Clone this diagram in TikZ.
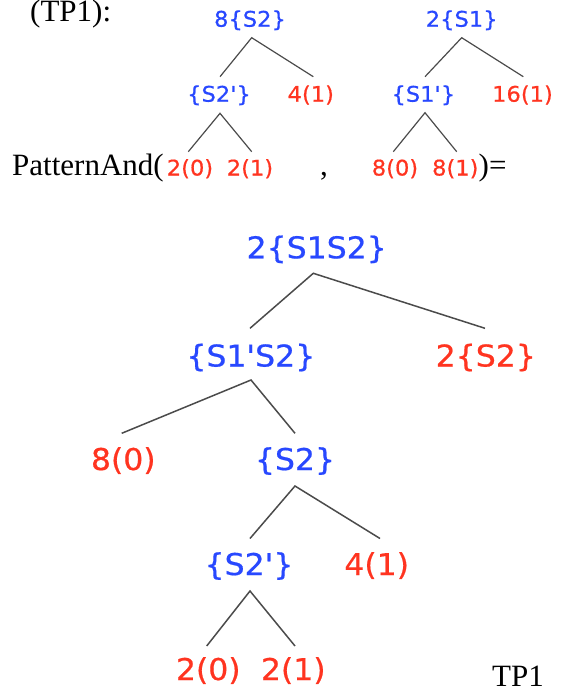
\documentclass[tikz,border=0pt]{standalone}
\usepackage{fontspec}
\setmainfont{Liberation Serif}
\newfontfamily\lbl{DejaVu Sans}[FakeStretch=1.05,FakeBold=0.6]
\definecolor{lblue}{RGB}{40,72,255}
\definecolor{lred}{RGB}{255,52,32}
\definecolor{lgray}{RGB}{75,75,75}
\tikzset{
  big/.style={inner sep=0pt, anchor=base, font=\lbl\fontsize{30}{30}\selectfont},
  small/.style={inner sep=0pt, anchor=base, font=\lbl\fontsize{21.5}{21.5}\selectfont},
  bl/.style={text=lblue},
  rd/.style={text=lred},
  serif/.style={inner sep=0pt, anchor=base west, font=\fontsize{31}{31}\selectfont},
  edgebig/.style={draw=lgray, line width=1.5pt},
  edgesmall/.style={draw=lgray, line width=1.2pt}
}
\begin{document}
\begin{tikzpicture}[x=1pt,y=-1pt]
\useasboundingbox (0,0) rectangle (560,690);
% ---------- top-left tree ----------
\node[small,bl] (t1r) at (250,26.7) {8\{S2\}};
\node[small,bl] (t1a) at (219,101.7) {\{S2'\}};
\node[small,rd] (t1b) at (310.8,101.7) {4(1)};
\node[small,rd] (t1c) at (190,175.5) {2(0)};
\node[small,rd] (t1d) at (250,175.5) {2(1)};
\coordinate (t1rp) at (251.7,37.7);
\coordinate (t1ap) at (220,76.7);
\coordinate (t1bp) at (313.3,76.7);
\coordinate (t1aq) at (220,113.3);
\coordinate (t1cp) at (188.3,151.7);
\coordinate (t1dp) at (251.7,151.7);
\draw[edgesmall] (t1ap) -- (t1rp) -- (t1bp);
\draw[edgesmall] (t1cp) -- (t1aq) -- (t1dp);
% ---------- top-right tree ----------
\node[small,bl] (t2r) at (461.7,26.7) {2\{S1\}};
\node[small,bl] (t2a) at (423.3,101.7) {\{S1'\}};
\node[small,rd] (t2b) at (522.5,101.7) {16(1)};
\node[small,rd] (t2c) at (395,175.5) {8(0)};
\node[small,rd] (t2d) at (455.3,175.5) {8(1)};
\coordinate (t2rp) at (461.7,37.7);
\coordinate (t2ap) at (425,76.7);
\coordinate (t2bp) at (523.3,76.7);
\coordinate (t2aq) at (425,112.7);
\coordinate (t2cp) at (393.3,151.7);
\coordinate (t2dp) at (456.7,151.7);
\draw[edgesmall] (t2ap) -- (t2rp) -- (t2bp);
\draw[edgesmall] (t2cp) -- (t2aq) -- (t2dp);
% ---------- serif text ----------
\node[serif] (tp1a) at (30,22) {(TP1):};
\node[serif] (pand) at (12,175.5) {PatternAnd(};
\node[serif] (comma) at (320,175.5) {,};
\node[serif] (cleq) at (478.5,175.5) {)=};
\node[serif] (tp1b) at (492,686.5) {TP1};
% ---------- main tree ----------
\node[big,bl] (m0) at (316.7,258.3) {2\{S1S2\}};
\node[big,bl] (m1) at (250.8,366.5) {\{S1'S2\}};
\node[big,rd] (m2) at (485.8,366.5) {2\{S2\}};
\node[big,rd] (m3) at (123.3,470) {8(0)};
\node[big,bl] (m4) at (295,470) {\{S2\}};
\node[big,bl] (m5) at (249,575) {\{S2'\}};
\node[big,rd] (m6) at (376.7,575) {4(1)};
\node[big,rd] (m7) at (208.3,680) {2(0)};
\node[big,rd] (m8) at (293.3,680) {2(1)};
\coordinate (m0p) at (313.3,273.3);
\coordinate (m1p) at (250,328.3);
\coordinate (m2p) at (485,328.3);
\coordinate (m1q) at (251,380);
\coordinate (m3p) at (121.7,433.3);
\coordinate (m4p) at (295,433.3);
\coordinate (m4q) at (295,486);
\coordinate (m5p) at (250,538.5);
\coordinate (m6p) at (380,538.5);
\coordinate (m5q) at (250,591);
\coordinate (m7p) at (206.7,646);
\coordinate (m8p) at (295,646);
\draw[edgebig] (m1p) -- (m0p) -- (m2p);
\draw[edgebig] (m3p) -- (m1q) -- (m4p);
\draw[edgebig] (m5p) -- (m4q) -- (m6p);
\draw[edgebig] (m7p) -- (m5q) -- (m8p);
\end{tikzpicture}
\end{document}
